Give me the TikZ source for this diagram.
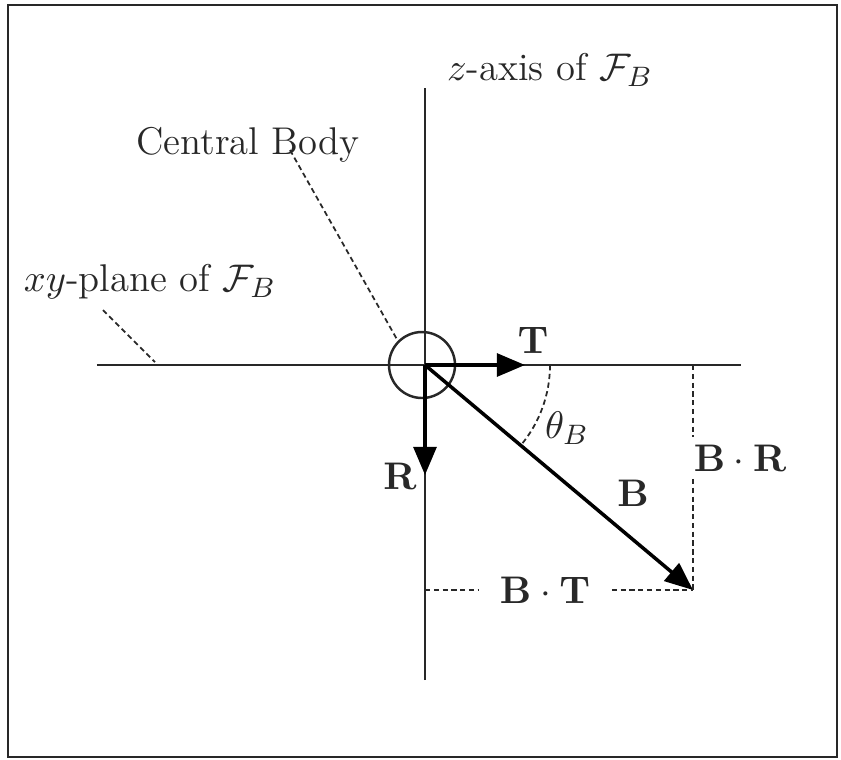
\documentclass[tikz,border=0pt]{standalone}
\usepackage{amsmath,amssymb}
\usetikzlibrary{arrows.meta,positioning,calc}
\definecolor{inkgray}{RGB}{40,40,40}

\begin{document}
\begin{tikzpicture}[
    font=\fontsize{11pt}{13pt}\selectfont,
    axis/.style={draw=inkgray, line width=0.8pt},
    vec/.style={draw=black, line width=1pt, -{Triangle[length=8pt,width=6.5pt]}},
    guide/.style={draw=inkgray, dash pattern={on 1.5pt off 1pt}, line width=0.5pt},
    lbl/.style={text=inkgray, inner sep=2pt}
]

% Frame
\useasboundingbox (-4.25,-3.94) rectangle (4.16,3.65);
\draw[draw=inkgray, line width=0.7pt] (-4.17,-3.92) rectangle (4.12,3.60);

% Axes of the body frame
\coordinate (O) at (0,0);
\coordinate (zTop) at (0,2.77);
\coordinate (zBot) at (0,-3.15);
\coordinate (xyL) at (-3.28,0);
\coordinate (xyR) at (3.16,0);
\draw[axis] (zBot) -- (zTop);
\draw[axis] (xyL) -- (xyR);

% Central body
\node[draw=inkgray, circle, minimum size=0.66cm, inner sep=0pt, line width=0.7pt] (body) at (-0.03,0) {};

% Unit vectors and B
\coordinate (Ttip) at (1.0,0);
\coordinate (Rtip) at (0,-1.10);
\coordinate (Btip) at (2.68,-2.25);
\draw[vec] (O) -- (Ttip);
\draw[vec] (O) -- (Rtip);
\draw[vec] (O) -- (Btip);
\node[lbl] (Tlabel) at (1.08,0.25) {$\mathbf{T}$};
\node[lbl] (Rlabel) at (-0.25,-1.11) {$\mathbf{R}$};
\node[lbl] (Blabel) at (2.08,-1.28) {$\mathbf{B}$};

% Angle theta_B
\draw[guide] (1.25,0) arc[start angle=0, end angle=-40, radius=1.25];
\node[lbl] (theta) at (1.42,-0.63) {$\theta_B$};

% Projections of B
\coordinate (BRtop) at (2.68,0);
\coordinate (BTleft) at (0,-2.25);
\node[lbl, fill=white] (BR) at (3.15,-0.93) {$\mathbf{B}\cdot\mathbf{R}$};
\node[lbl, fill=white, inner xsep=6pt] (BT) at (1.20,-2.25) {$\mathbf{B}\cdot\mathbf{T}$};
\draw[guide] (BRtop) -- (BRtop |- BR.north);
\draw[guide] (BRtop |- BR.south) -- (Btip);
\draw[guide] (BTleft) -- (BT.west);
\draw[guide] (BT.east) -- (Btip);

% Labels with leaders
\node[lbl] (zlabel) at (1.25,2.95) {$z$-axis of $\mathcal{F}_B$};
\node[lbl] (cblabel) at (-1.77,2.20) {Central Body};
\node[lbl] (xylabel) at (-2.75,0.83) {$xy$-plane of $\mathcal{F}_B$};
\draw[guide] (-1.35,2.15) -- (body.north west);
\draw[guide] (-3.22,0.55) -- (-2.70,0.03);

\end{tikzpicture}
\end{document}
